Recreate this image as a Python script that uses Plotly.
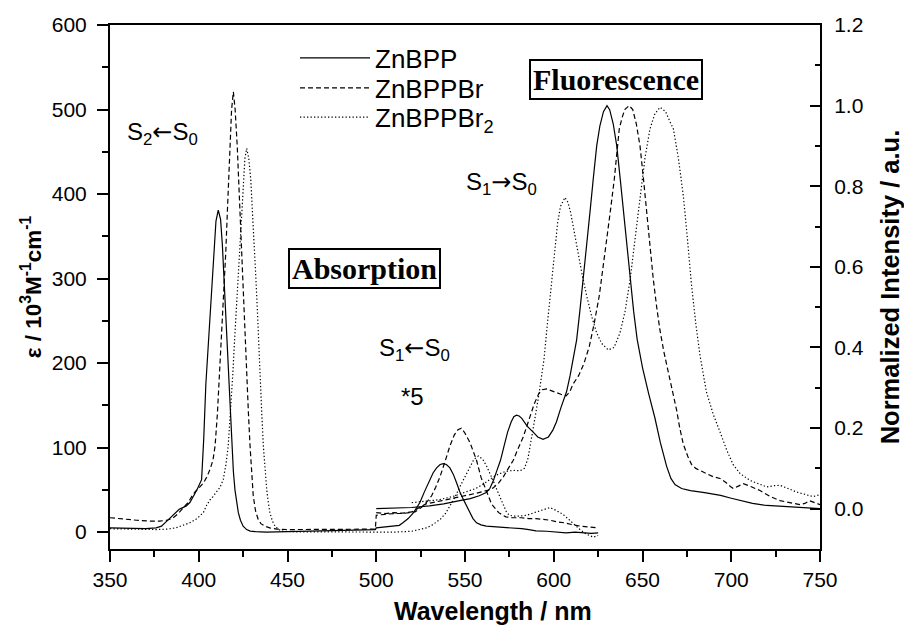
import plotly.graph_objects as go

# ---------------- data ----------------
# Absorption (left axis, epsilon / 10^3 M^-1 cm^-1); Q-band region (>=500 nm) shown *5
abs_wl_znbpp = [350, 360, 370, 376, 379, 382, 386, 389, 391, 393, 395, 397, 399, 401.6, 402.8, 404, 405, 406.3, 407.5, 408.5,
                409.7, 411, 412.3, 413.3, 414.2, 415, 415.7, 416.5, 417.2, 418, 418.5, 419.5, 420.4, 421.3, 422.3, 423.5,
                425, 427, 429, 432, 438, 450, 465, 480, 490, 499.5,
                500, 505, 510, 513, 515, 518, 521, 524.6, 527, 530, 532, 534, 536, 537.8, 539.5, 541.5, 543.5, 545.3,
                547, 549, 551, 552.8, 554.5, 556.5, 559, 562, 566, 570, 574, 577, 582, 586, 590, 596, 600, 607, 612,
                617, 621, 625]
abs_znbpp = [5, 4.5, 4, 5, 7, 13, 21, 27, 29, 31, 35, 42, 50, 62, 110, 175, 210, 259, 305, 338,
             368, 381, 370, 340, 299, 270, 240, 210, 180, 130, 102, 72, 50, 35, 23, 14,
             7, 3, 1.2, 0.5, 0, 0.5, 1, 1.5, 2, 3,
             5, 6, 7, 8, 11, 16, 23, 35, 47, 62, 70, 76, 80, 81, 80, 76, 68, 58,
             48, 39, 30, 23, 16, 11, 8.5, 7, 6.5, 6, 5, 5, 4, 3, 1.5, 1, 0.5, -1, 0,
             -1, -1.5, -1]

abs_wl_znbppbr = [350, 358, 365, 372, 378, 382, 385, 388, 390, 392, 394, 396, 398, 400, 402.6, 404.5, 406.3, 408, 409.2,
                  410.5, 411.6, 413, 414.2, 415.2, 416.1, 417.6, 418.5, 419.5, 420.5, 421.7, 423.2, 424.2, 425.1, 426,
                  427, 428, 428.9, 429.8, 430.7, 432, 433.5, 435, 437.3, 440, 444, 451, 465, 480, 499.5,
                  500, 505, 510, 515, 518, 521.8, 524, 526.5, 529, 531.2, 533.5, 536, 539, 541.5, 544, 546, 548, 550,
                  552.8, 554.5, 556.5, 559, 562, 565, 569, 573, 577, 582, 586, 590, 594, 598, 602, 606, 610, 615, 620, 625]
abs_znbppbr = [17, 15, 14, 13, 13, 14, 16, 21, 26, 30, 35, 42, 48, 52, 58, 65, 74, 85, 102,
               140, 184, 230, 279, 330, 378, 456, 500, 521, 500, 456, 378, 330, 279, 230,
               184, 140, 102, 70, 43, 25, 15, 10, 7, 5, 3.5, 3, 3, 3, 3.5,
               20, 21, 22, 22, 23, 24, 27, 31, 37, 43, 53, 66, 85, 102, 115, 121, 123, 117,
               106, 96, 85, 65, 48, 33, 23, 18, 17, 17, 16, 16, 15, 14, 12, 11, 9, 7, 6, 5]

abs_wl_znbppbr2 = [350, 360, 370, 376, 382, 387, 391, 395, 399, 402.6, 404.5, 406.3, 408, 410, 412, 413.8, 415.3, 416.6,
                   417.9, 419.1, 420, 421, 422.1, 423.2, 424.2, 425.1, 426, 427, 428.2, 429.3, 430.3, 431.2, 432.2,
                   433.1, 433.8, 434.5, 435.5, 436.4, 437.3, 438.3, 439.2, 440.1, 441.5, 443, 445, 447.6, 455, 470,
                   485, 499.5,
                   500, 510, 520, 525, 528.4, 532, 536, 539, 541.5, 544.5, 547.2, 550, 552.8, 555, 557.5, 560, 562.2,
                   564, 566, 568, 569.7, 571.5, 573.5, 575, 577.2, 581, 585, 589, 592.3, 595, 597.9, 601, 605.2, 609,
                   612, 614.8, 618, 622.3, 625]
abs_znbppbr2 = [4, 3.5, 3, 3, 3.5, 5, 8, 11, 16, 23, 32, 38, 42, 47, 53, 62, 80, 102,
                140, 184, 220, 259, 300, 338, 380, 417, 442, 454, 442, 417, 380, 338, 300,
                259, 220, 184, 140, 102, 75, 50, 35, 23, 13, 7, 3, 1, 0.3, 0,
                0, 0,
                0, 0, 1, 3, 5, 9, 15, 22, 31, 42, 54, 66, 78, 86, 90, 86, 78,
                70, 60, 50, 41, 32, 23, 20, 19, 19, 20, 23, 25, 27, 29, 26, 21, 14,
                8, 3, -2, -6, -4]

# Fluorescence (right axis, normalized intensity)
fl_wl_znbpp = [500, 510, 520, 530, 538, 547, 553, 558, 562, 564, 566, 568, 570, 572, 574, 576, 577.5, 579, 580.5, 582,
               585, 588.4, 591, 594, 597, 599.5, 601.5, 604, 607.2, 609.2, 611, 612.9, 614.7, 616.6, 618.5, 620.4,
               622.3, 624.2, 626, 628, 630, 631.5, 633.5, 635.5, 637.4, 639.3, 641.2, 643, 645, 647, 650, 653.5, 657,
               660, 663.6, 666, 668.3, 672, 677, 685, 694, 700, 705, 712, 720, 730, 740, 750]
fl_znbpp = [0.0, 0.001, 0.003, 0.007, 0.012, 0.02, 0.025, 0.032, 0.04, 0.05, 0.07, 0.095, 0.12, 0.155, 0.19, 0.215,
            0.228, 0.232, 0.23, 0.224, 0.205, 0.19, 0.178, 0.172, 0.178, 0.195, 0.215, 0.25, 0.29, 0.33, 0.37, 0.419,
            0.49, 0.568, 0.65, 0.735, 0.82, 0.9, 0.95, 0.985, 1.0, 0.99, 0.955, 0.9, 0.82, 0.735, 0.65, 0.568, 0.49,
            0.42, 0.35, 0.285, 0.225, 0.165, 0.105, 0.075, 0.06, 0.05, 0.045, 0.04, 0.033, 0.026, 0.02, 0.013, 0.008,
            0.005, 0.003, 0.0]

fl_wl_znbppbr = [500, 505, 510, 515, 520, 524, 528, 537, 547, 556, 563, 566, 569, 571.6, 574, 577.2, 580, 582.8, 586,
                 589, 591.5, 593.5, 596, 600, 604, 607, 609, 611, 614, 617, 620, 622.8, 625.6, 627.5, 629.4, 631.8,
                 634.1, 635.5, 636.9, 638.5, 640, 642.5, 644.5, 646.5, 648.6, 650.5, 652.3, 654.2, 656.1, 658, 659.8,
                 662, 664.3, 666.8, 669.2, 671, 673, 675.5, 677.6, 680, 682.4, 686, 689.9, 693.7, 697, 699.5, 701.2,
                 704, 706.8, 711, 716.2, 722, 727.5, 733, 738.7, 741.5, 744, 747, 750]
fl_znbppbr = [-0.01, -0.012, -0.01, -0.011, -0.008, 0.002, 0.012, 0.02, 0.029, 0.038, 0.046, 0.052, 0.064, 0.079,
              0.097, 0.12, 0.15, 0.178, 0.22, 0.26, 0.285, 0.295, 0.297, 0.29, 0.284, 0.28, 0.29, 0.31, 0.33, 0.36,
              0.402, 0.46, 0.527, 0.59, 0.651, 0.735, 0.817, 0.88, 0.942, 0.97, 0.99, 1.0, 0.99, 0.955, 0.9, 0.82,
              0.735, 0.65, 0.568, 0.5, 0.444, 0.39, 0.345, 0.29, 0.245, 0.2, 0.16, 0.13, 0.11, 0.1, 0.095, 0.087,
              0.079, 0.075, 0.065, 0.055, 0.05, 0.056, 0.062, 0.055, 0.045, 0.03, 0.02, 0.015, 0.01, 0.013, 0.02,
              0.015, 0.01]

fl_wl_znbppbr2 = [520, 528, 535, 543, 550, 556, 560, 563, 566, 569, 572, 575, 578, 581, 583.5, 585.5, 587, 588.5, 590,
                  591.5, 593, 594.5, 596, 597.9, 599.3, 600.7, 602.2, 603.8, 606.3, 608, 609.5, 611.2, 612.9, 615.8,
                  618.6, 621.5, 624.2, 627, 630.7, 634, 637.3, 640.2, 643, 645.8, 648.6, 651.4, 654.2, 657, 659.9, 663,
                  665.5, 667.4, 670.2, 673, 675.3, 677.5, 680, 682.4, 686, 689.8, 693.7, 697.5, 701, 705, 710.6, 715,
                  720, 724, 727.5, 732, 737, 742, 746, 750]
fl_znbppbr2 = [0.015, 0.018, 0.022, 0.03, 0.04, 0.05, 0.06, 0.07, 0.079, 0.086, 0.091, 0.094, 0.095, 0.094, 0.1,
               0.125, 0.16, 0.2, 0.24, 0.28, 0.32, 0.37, 0.44, 0.527, 0.59, 0.651, 0.71, 0.75, 0.772, 0.76, 0.735,
               0.695, 0.651, 0.585, 0.527, 0.475, 0.436, 0.41, 0.394, 0.4, 0.436, 0.49, 0.568, 0.67, 0.776, 0.87,
               0.942, 0.98, 0.996, 0.985, 0.96, 0.942, 0.87, 0.776, 0.67, 0.56, 0.46, 0.38, 0.29, 0.235, 0.19, 0.145,
               0.11, 0.087, 0.07, 0.062, 0.054, 0.057, 0.058, 0.05, 0.041, 0.035, 0.03, 0.035]

series_names = ["ZnBPP", "ZnBPPBr", "ZnBPPBr<sub>2</sub>"]
x_ticks = [350, 400, 450, 500, 550, 600, 650, 700, 750]
y_ticks = [0, 100, 200, 300, 400, 500, 600]
y2_ticks = [0.0, 0.2, 0.4, 0.6, 0.8, 1.0, 1.2]

# ---------------- figure ----------------
dashes = ["solid", "5px,3px", "1.3px,2.2px"]
legend_ids = ["legend", "legend2", "legend3"]
abs_sets = [(abs_wl_znbpp, abs_znbpp), (abs_wl_znbppbr, abs_znbppbr), (abs_wl_znbppbr2, abs_znbppbr2)]
fl_sets = [(fl_wl_znbpp, fl_znbpp), (fl_wl_znbppbr, fl_znbppbr), (fl_wl_znbppbr2, fl_znbppbr2)]

fig = go.Figure()
for i, (wx, wy) in enumerate(abs_sets):
    fig.add_trace(go.Scatter(x=wx, y=wy, mode="lines", name=series_names[i], legendgroup=str(i),
                             legend=legend_ids[i],
                             line=dict(color="black", width=1.2, dash=dashes[i]), yaxis="y"))
for i, (wx, wy) in enumerate(fl_sets):
    fig.add_trace(go.Scatter(x=wx, y=wy, mode="lines", name=series_names[i], legendgroup=str(i),
                             legend=legend_ids[i], showlegend=False,
                             line=dict(color="black", width=1.2, dash=dashes[i]), yaxis="y2"))

FONT = "Liberation Sans, Arial, sans-serif"
SERIF = "Liberation Serif, Times New Roman, serif"
LARR = '<span style="font-family:DejaVu Sans">←</span>'
RARR = '<span style="font-family:DejaVu Sans">→</span>'

leg_common = dict(x=0.2606, xanchor="left", yanchor="middle", bgcolor="rgba(0,0,0,0)",
                  font=dict(size=26, family=FONT), itemwidth=70)

fig.update_layout(
    width=904, height=625,
    margin=dict(l=110, r=84, t=25, b=76, autoexpand=False),
    paper_bgcolor="white", plot_bgcolor="white",
    font=dict(family=FONT, size=20, color="black"),
    showlegend=True,
    legend=dict(y=0.937, **leg_common),
    legend2=dict(y=0.8798, **leg_common),
    legend3=dict(y=0.8240, **leg_common),
    xaxis=dict(range=[350, 750], tickvals=x_ticks, ticks="outside", ticklen=11, tickwidth=1.5,
               tickcolor="black", showline=True, linewidth=2, linecolor="black", mirror=True,
               showgrid=False, zeroline=False, tickfont=dict(size=21), automargin=False,
               minor=dict(dtick=25, tick0=350, ticks="outside", ticklen=6, tickwidth=1.5, tickcolor="black")),
    xaxis2=dict(range=[350, 750], overlaying="x", side="top", tickvals=x_ticks, ticks="inside", ticklen=3,
                tickwidth=1.5, tickcolor="black", showticklabels=False, showline=False, showgrid=False,
                zeroline=False, automargin=False),
    yaxis=dict(range=[-20, 600], tickvals=y_ticks, ticks="outside", ticklen=11, tickwidth=1.5,
               tickcolor="black", showline=True, linewidth=2, linecolor="black", automargin=False,
               showgrid=False, zeroline=False, tickfont=dict(size=21), ticklabelstandoff=6,
               minor=dict(dtick=50, tick0=0, ticks="outside", ticklen=6, tickwidth=1.5, tickcolor="black"),
               title=dict(text="<b>ε / 10<sup>3</sup>M<sup>-1</sup>cm<sup>-1</sup></b>",
                          font=dict(size=22.5), standoff=4)),
    yaxis2=dict(range=[-0.1, 1.2], tickvals=y2_ticks, tickformat=".1f", overlaying="y", side="right",
                ticks="inside", ticklen=10, tickwidth=1.5, tickcolor="black", showline=True, linewidth=2,
                linecolor="black", showgrid=False, zeroline=False, tickfont=dict(size=21), ticklabelstandoff=8,
                automargin=False,
                minor=dict(dtick=0.1, tick0=0, ticks="inside", ticklen=5, tickwidth=1.5, tickcolor="black"),
                title=dict(text="<b>Normalized Intensity / a.u.</b>", font=dict(size=25.5), standoff=18)),
)

ann_font = dict(family=FONT, size=24, color="black")
fig.add_annotation(x=379.3, y=472, xref="x", yref="y", text="S<sub>2</sub>" + LARR + "S<sub>0</sub>",
                   showarrow=False, font=ann_font)
fig.add_annotation(x=521.3, y=216, xref="x", yref="y", text="S<sub>1</sub>" + LARR + "S<sub>0</sub>",
                   showarrow=False, font=ann_font)
fig.add_annotation(x=520.7, y=160, xref="x", yref="y", text="*5", showarrow=False, font=ann_font)
fig.add_annotation(x=570.3, y=412, xref="x", yref="y", text="S<sub>1</sub>" + RARR + "S<sub>0</sub>",
                   showarrow=False, font=ann_font)
fig.add_annotation(x=493.4, y=312, xref="x", yref="y", text="<b>Absorption</b>", showarrow=False,
                   font=dict(family=SERIF, size=30, color="black"), bordercolor="black", borderwidth=2,
                   borderpad=2, bgcolor="white")
fig.add_annotation(x=634.8, y=535, xref="x", yref="y", text="<b>Fluorescence</b>", showarrow=False,
                   font=dict(family=SERIF, size=30, color="black"), bordercolor="black", borderwidth=2,
                   borderpad=2, bgcolor="white")
fig.add_annotation(x=0.539, y=-0.118, xref="paper", yref="paper", text="<b>Wavelength / nm</b>",
                   showarrow=False, font=dict(family=FONT, size=25, color="black"), yanchor="middle")

fig.write_html("out.html")
